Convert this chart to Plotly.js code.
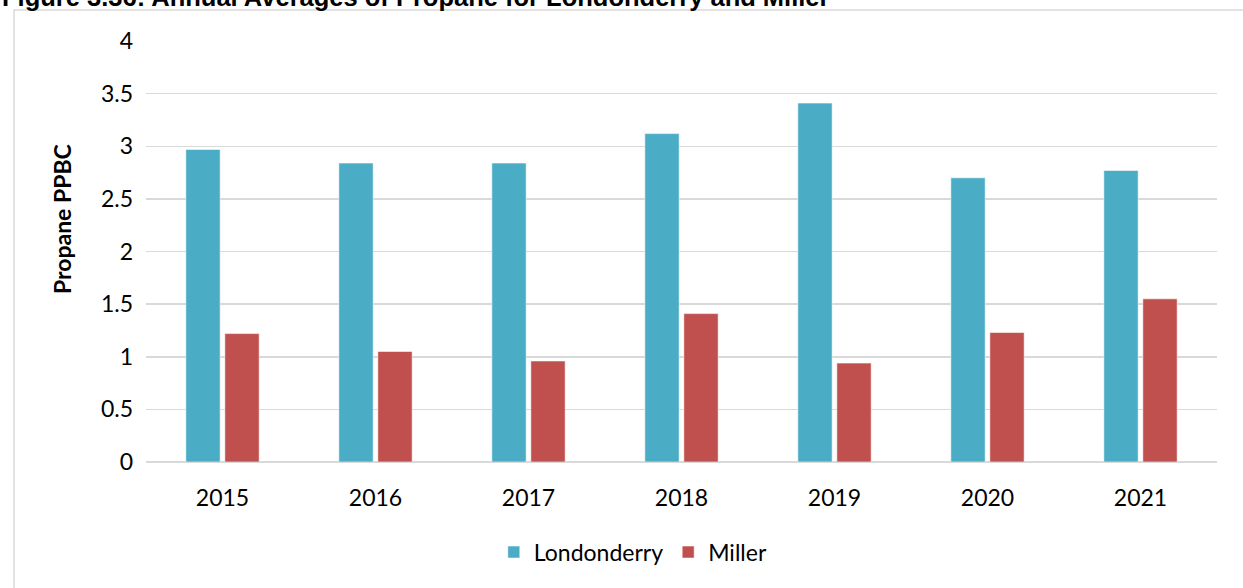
<!DOCTYPE html>
<html>
<head>
<meta charset="utf-8">
<script src="https://cdn.plot.ly/plotly-3.0.1.min.js"></script>
<style>
html,body{margin:0;padding:0;background:#fff;}
#chart{width:1243px;height:588px;}
</style>
</head>
<body>
<div id="chart"></div>
<script>
const years = ["2015", "2016", "2017", "2018", "2019", "2020", "2021"];
const londonderry = [2.97, 2.84, 2.84, 3.12, 3.41, 2.70, 2.77];
const miller = [1.22, 1.05, 0.96, 1.41, 0.94, 1.23, 1.55];
const yTicks = [0, 0.5, 1, 1.5, 2, 2.5, 3, 3.5, 4];
const yTickText = ["0", "0.5", "1", "1.5", "2", "2.5", "3", "3.5", "4"];
const titleText = "Figure 3.36: Annual Averages of Propane for Londonderry and Miller";
const yTitleText = "Propane PPBC";

const font = "Lato, 'Open Sans', sans-serif";

const traces = [
  {
    type: "bar", name: "Londonderry", x: years, y: londonderry,
    marker: {color: "#4BACC6", line: {color: "rgba(255,255,255,0.55)", width: 1}}
  },
  {
    type: "bar", name: "Miller", x: years, y: miller,
    marker: {color: "#C0504D", line: {color: "rgba(255,255,255,0.55)", width: 1}}
  }
];

const layout = {
  width: 1243, height: 588,
  margin: {l: 146, r: 26, t: 41, b: 126},
  paper_bgcolor: "#ffffff", plot_bgcolor: "#ffffff",
  font: {family: font, color: "#000000", size: 23},
  barmode: "group", bargap: 0.49, bargroupgap: 0.12,
  showlegend: true,
  legend: {
    orientation: "h", x: 0.455, xanchor: "center", y: -0.214, yanchor: "middle",
    font: {family: font, size: 23, color: "#000"}, itemclick: false
  },
  xaxis: {
    type: "category", tickvals: years, ticktext: years,
    showgrid: false, showline: false, zeroline: false, ticks: "",
    tickfont: {family: font, size: 23, color: "#000"},
    ticklabelstandoff: 20
  },
  yaxis: {
    range: [0, 4], tickvals: yTicks, ticktext: yTickText,
    showgrid: true, gridcolor: "#d9d9d9", gridwidth: 1.5,
    zeroline: true, zerolinecolor: "#d9d9d9", zerolinewidth: 1.5,
    showline: false, ticks: "",
    tickfont: {family: font, size: 23, color: "#000"},
    ticklabelstandoff: 12
  },
  annotations: [
    {
      text: "<b>" + titleText + "</b>", showarrow: false,
      xref: "paper", yref: "paper", x: -0.1363, xanchor: "left", y: 1.0665, yanchor: "bottom",
      font: {family: "'Liberation Sans', Arial, sans-serif", size: 25.5, color: "#000"}
    },
    {
      text: "<b>" + yTitleText + "</b>", showarrow: false, textangle: -90,
      xref: "paper", yref: "paper", x: -0.0784, xanchor: "center", y: 0.577, yanchor: "middle",
      font: {family: font, size: 23, color: "#000"}
    }
  ],
  shapes: [
    {
      type: "rect", xref: "paper", yref: "paper",
      x0: -0.1232, x1: 1.2, y0: -0.6, y1: 1.0736,
      line: {color: "#d9d9d9", width: 1.5}, fillcolor: "rgba(0,0,0,0)", layer: "below"
    }
  ]
};

Plotly.newPlot("chart", traces, layout, {displayModeBar: false, staticPlot: true});
</script>
</body>
</html>
